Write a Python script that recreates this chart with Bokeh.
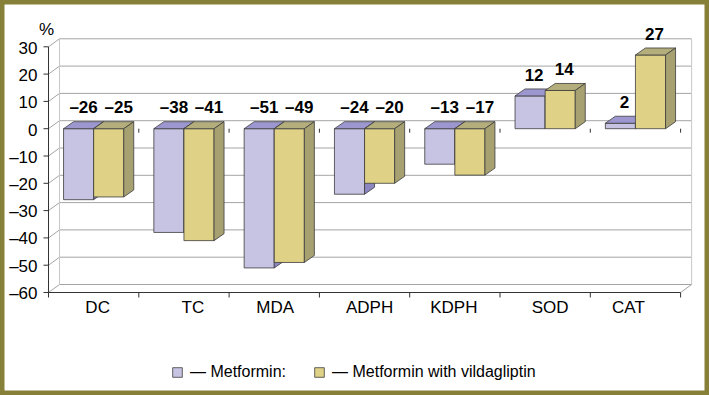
from bokeh.plotting import figure
from bokeh.models import ColumnDataSource, Legend, LegendItem
from bokeh.core.properties import value
from bokeh.embed import file_html
from bokeh.resources import INLINE

# ---------------- data ----------------
categories = ["DC", "TC", "MDA", "ADPH", "KDPH", "SOD", "CAT"]
metformin = [-26, -38, -51, -24, -13, 12, 2]
metformin_vilda = [-25, -41, -49, -20, -17, 14, 27]
y_ticks = [-60, -50, -40, -30, -20, -10, 0, 10, 20, 30]
series_names = ["\u2014 Metformin:", "\u2014 Metformin with vildagliptin"]
unit_label = "%"

# ---------------- style / geometry ----------------
FONT = "Liberation Sans"
W, H = 709, 395
PXX = 1 / 90.3          # one pixel in x data units
PXY = 1 / 2.73          # one pixel in y data units
X0, X1 = -48 * PXX, (W - 48) * PXX
Y0, Y1 = -(H - 128.2) * PXY, 128.2 * PXY
BAR_DX, BAR_DY = 10 * PXX, 7 * PXY
WALL_DX, WALL_DY = 11 * PXX, 8 * PXY
EDGE = "#3c3c3c"
GRID = "#a4a4a4"
AXIS = "#333333"
OLIVE = "#878039"
cat_label_nudge = [4, 9, 1, 5, -1, 5, -7]   # pixel nudges of category labels
colors = [
    dict(front="#c7c4e3", top="#9c97cf", side="#8c87c0"),
    dict(front="#dfd186", top="#b4ae7c", side="#a7a171"),
]

p = figure(width=W, height=H, x_range=(X0, X1), y_range=(Y0, Y1),
           output_backend="svg", toolbar_location=None,
           x_axis_location=None, y_axis_location=None,
           min_border=0)
p.background_fill_color = "white"
p.border_fill_color = "white"
p.grid.visible = False
p.outline_line_color = OLIVE
p.outline_line_width = 8

n = len(categories)
ymin, ymax = y_ticks[0], y_ticks[-1]

# ---------------- walls ----------------
p.segment(x0=[WALL_DX] * len(y_ticks), y0=[t + WALL_DY for t in y_ticks],
          x1=[n + WALL_DX] * len(y_ticks), y1=[t + WALL_DY for t in y_ticks],
          line_color=GRID, line_width=1)
p.segment(x0=[0] * len(y_ticks), y0=y_ticks,
          x1=[WALL_DX] * len(y_ticks), y1=[t + WALL_DY for t in y_ticks],
          line_color=GRID, line_width=1)
p.segment(x0=[WALL_DX, n + WALL_DX], y0=[ymin + WALL_DY] * 2,
          x1=[WALL_DX, n + WALL_DX], y1=[ymax + WALL_DY] * 2,
          line_color="#c8c8c8", line_width=1)
p.segment(x0=[n], y0=[ymin], x1=[n + WALL_DX], y1=[ymin + WALL_DY],
          line_color=GRID, line_width=1)

# ---------------- axes (front) ----------------
p.segment(x0=[0], y0=[ymin], x1=[0], y1=[ymax], line_color=AXIS, line_width=1)
p.segment(x0=[-5 * PXX] * len(y_ticks), y0=y_ticks, x1=[0] * len(y_ticks), y1=y_ticks,
          line_color=AXIS, line_width=1)
p.text(x=[-11 * PXX] * len(y_ticks), y=y_ticks,
       text=[("\u2013" + str(abs(t))) if t < 0 else str(t) for t in y_ticks],
       y_offset=1, text_align="right", text_baseline="middle", text_font=value(FONT),
       text_font_size="17px", text_color="black")
p.text(x=[-2 * PXX], y=[ymax + 17 * PXY], text=[unit_label], text_align="center",
       text_baseline="middle", text_font=value(FONT), text_font_size="17px",
       text_color="black")

p.segment(x0=[0], y0=[ymin], x1=[n], y1=[ymin], line_color=AXIS, line_width=1)
bounds = list(range(n + 1))
p.segment(x0=bounds, y0=[ymin] * len(bounds), x1=bounds,
          y1=[ymin - 5 * PXY] * len(bounds), line_color=AXIS, line_width=1)
cat_src = ColumnDataSource(dict(x=[i + 0.5 for i in range(n)], y=[ymin] * n,
                                t=categories, dx=cat_label_nudge))
p.text(x="x", y="y", text="t", source=cat_src, x_offset="dx",
       y_offset=15, text_align="center", text_baseline="middle",
       text_font=value(FONT), text_font_size="17px", text_color="black")

# zero-level category ticks
p.segment(x0=bounds[1:], y0=[0] * n, x1=bounds[1:], y1=[-4 * PXY] * n,
          line_color=AXIS, line_width=1)

# ---------------- bars ----------------
renderers = []
for s, vals in enumerate([metformin, metformin_vilda]):
    left = [i + 1 / 6 + s / 3 for i in range(n)]
    right = [l + 1 / 3 for l in left]
    bottom = [min(0, v) for v in vals]
    top = [max(0, v) for v in vals]
    c = colors[s]
    r = p.quad(left=left, right=right, bottom=bottom, top=top,
               fill_color=c["front"], line_color=EDGE, line_width=0.8)
    renderers.append(r)
    p.patches(xs=[[l, l + BAR_DX, rr + BAR_DX, rr] for l, rr in zip(left, right)],
              ys=[[t, t + BAR_DY, t + BAR_DY, t] for t in top],
              fill_color=c["top"], line_color=EDGE, line_width=0.8)
    p.patches(xs=[[rr, rr + BAR_DX, rr + BAR_DX, rr] for rr in right],
              ys=[[b, b + BAR_DY, t + BAR_DY, t] for b, t in zip(bottom, top)],
              fill_color=c["side"], line_color=EDGE, line_width=0.8)

# ---------------- value labels ----------------
for s, vals in enumerate([metformin, metformin_vilda]):
    src = ColumnDataSource(dict(
        x=[i + 1 / 3 + s / 3 for i in range(n)],
        y=[max(0, v) for v in vals],
        t=[("\u2013" + str(abs(v))) if v < 0 else str(v) for v in vals],
        dx=[(5 + 5 * s) if v < 0 else 4 for v in vals]))
    p.text(x="x", y="y", text="t", source=src, x_offset="dx", y_offset=-21,
           text_align="center", text_baseline="middle",
           text_font=value(FONT), text_font_size="17px", text_font_style="bold",
           text_color="black")

# ---------------- legend ----------------
legend = Legend(items=[LegendItem(label=series_names[i], renderers=[renderers[i]])
                       for i in range(2)],
                location=(171, 14), orientation="horizontal",
                glyph_width=12, glyph_height=12, label_standoff=7, spacing=27,
                padding=0, margin=0, border_line_color=None, background_fill_alpha=0,
                label_text_font=FONT, label_text_font_size="16px",
                label_text_color="black")
p.add_layout(legend, "center")

open("out.html", "w").write(file_html(p, INLINE))
